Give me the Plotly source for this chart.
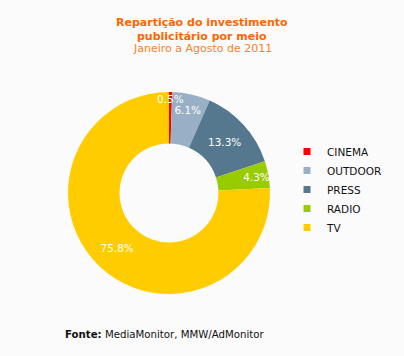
import math
import plotly.graph_objects as go

categories = ["CINEMA", "OUTDOOR", "PRESS", "RADIO", "TV"]
values = [0.5, 6.1, 13.3, 4.3, 75.8]
colors = ["#FF0000", "#98AFC5", "#56788F", "#99CC00", "#FFCC00"]

W, H = 404, 356
cx, cy, r = 169, 193, 101

fig = go.Figure()
fig.add_trace(go.Pie(
    labels=categories,
    values=values,
    sort=False,
    direction="clockwise",
    rotation=0,
    hole=0.49,
    marker=dict(colors=colors, line=dict(width=0)),
    texttemplate=[""] + ["%{value:.1f}%"] * (len(values) - 1),
    textposition="inside",
    insidetextorientation="horizontal",
    textfont=dict(family="DejaVu Sans", size=10.5, color="white"),
    domain=dict(x=[(cx - r) / W, (cx + r) / W], y=[1 - (cy + r) / H, 1 - (cy - r) / H]),
    hoverinfo="label+percent",
    showlegend=False,
))

# legend entries with small square swatches
for name, col in zip(categories, colors):
    fig.add_trace(go.Scatter(
        x=[None], y=[None], mode="markers", name=name,
        marker=dict(symbol="square", size=7, color=col),
        showlegend=True, hoverinfo="skip",
    ))

fig.update_xaxes(visible=False)
fig.update_yaxes(visible=False)

# label for the tiny first slice, placed at its mid-angle near the outer edge
total = sum(values)
mid_angle = values[0] / total * 360 / 2
lr = 0.95 * r
lx = cx + lr * math.sin(math.radians(mid_angle))
ly = cy - lr * math.cos(math.radians(mid_angle))

fig.update_layout(
    width=W, height=H,
    margin=dict(l=0, r=0, t=0, b=0),
    paper_bgcolor="#FBFBFB",
    plot_bgcolor="#FBFBFB",
    font=dict(family="DejaVu Sans", size=11, color="#222222"),
    uniformtext=dict(minsize=10.5, mode="show"),
    showlegend=True,
    legend=dict(
        x=287 / W, y=1 - 137 / H, xanchor="left", yanchor="top",
        font=dict(family="DejaVu Sans", size=10.5, color="#111111"),
        itemwidth=30, tracegroupgap=0, bgcolor="rgba(0,0,0,0)",
    ),
    annotations=[
        dict(text="<b>Repartição do investimento</b>", x=0.5, y=1 - 22 / H, xref="paper", yref="paper",
             showarrow=False, font=dict(family="DejaVu Sans", size=11, color="#FF6600"), yanchor="middle"),
        dict(text="<b>publicitário por meio</b>", x=0.5, y=1 - 36 / H, xref="paper", yref="paper",
             showarrow=False, font=dict(family="DejaVu Sans", size=11, color="#FF6600"), yanchor="middle"),
        dict(text="Janeiro a Agosto de 2011", x=0.5, y=1 - 49 / H, xref="paper", yref="paper",
             showarrow=False, font=dict(family="DejaVu Sans", size=11, color="#FF7F1F"), yanchor="middle"),
        dict(text=f"{values[0]:.1f}%", x=lx / W, y=1 - (ly + 2) / H, xref="paper", yref="paper",
             showarrow=False, font=dict(family="DejaVu Sans", size=10.5, color="white"),
             xanchor="center", yanchor="middle"),
        dict(text="<b>Fonte:</b> MediaMonitor, MMW/AdMonitor", x=63 / W, y=1 - 334 / H, xref="paper", yref="paper",
             xanchor="left", yanchor="middle", showarrow=False,
             font=dict(family="DejaVu Sans", size=10.2, color="#111111")),
    ],
)

fig.write_html("out.html", post_script="document.body.style.margin='0';",
               config={"displayModeBar": False})
